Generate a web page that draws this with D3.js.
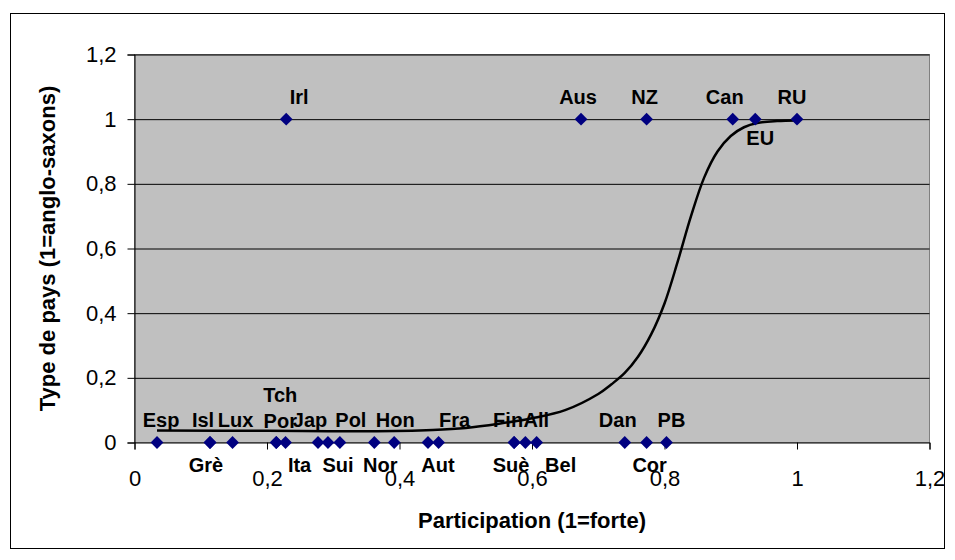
<!DOCTYPE html>
<html>
<head>
<meta charset="utf-8">
<script src="https://cdn.jsdelivr.net/npm/d3@7"></script>
<style>
  body { margin: 0; background: #fff; }
  text { font-family: "Liberation Sans", Arial, sans-serif; }
</style>
</head>
<body>
<div class="chart"></div>
<script>
// countries and values
var countries = ["Esp", "Isl", "Grè", "Lux", "Tch", "Por", "Ita", "Jap", "Sui", "Pol", "Nor", "Hon", "Aut", "Fra", "Suè", "Fin", "All", "Bel", "Dan", "Cor", "PB", "Irl", "Aus", "NZ", "Can", "EU", "RU"];
var participation = [0.034, 0.114, 0.114, 0.148, 0.214, 0.214, 0.228, 0.277, 0.292, 0.31, 0.362, 0.392, 0.443, 0.459, 0.573, 0.573, 0.59, 0.607, 0.74, 0.773, 0.803, 0.229, 0.674, 0.773, 0.903, 0.937, 1];
var anglo = [0, 0, 0, 0, 0, 0, 0, 0, 0, 0, 0, 0, 0, 0, 0, 0, 0, 0, 0, 0, 0, 1, 1, 1, 1, 1, 1];

// fitted curve, points
var curveX = [0.034, 0.2, 0.35, 0.45, 0.5, 0.55, 0.6, 0.65, 0.7, 0.72, 0.74, 0.76, 0.78, 0.8, 0.82, 0.84, 0.86, 0.88, 0.9, 0.92, 0.94, 0.97, 1];
var curveY = [0.037, 0.036, 0.035, 0.039, 0.045, 0.058, 0.075, 0.1, 0.15, 0.18, 0.215, 0.265, 0.335, 0.43, 0.56, 0.7, 0.82, 0.9, 0.948, 0.975, 0.988, 0.994, 0.996];

var xTicks = [0, 0.2, 0.4, 0.6, 0.8, 1, 1.2];
var xTickLabels = ["0", "0,2", "0,4", "0,6", "0,8", "1", "1,2"];
var yTicks = [0, 0.2, 0.4, 0.6, 0.8, 1, 1.2];
var yTickLabels = ["0", "0,2", "0,4", "0,6", "0,8", "1", "1,2"];

// label placement (pixel offsets from the point: dx, baseline dy)
var labelPlace = {
  "Esp": [4, -16], "Isl": [-7, -16], "Grè": [-4, 29], "Lux": [3, -16],
  "Tch": [4, -41], "Por": [4, -15], "Ita": [14, 29], "Jap": [-8, -16],
  "Sui": [10, 29], "Pol": [11, -16], "Nor": [6, 29], "Hon": [1, -16],
  "Aut": [10, 29], "Fra": [16, -16], "Suè": [-3, 29], "Fin": [-6, -16],
  "All": [11, -16], "Bel": [24, 29], "Dan": [-7, -16], "Cor": [3, 29],
  "PB": [5, -16], "Irl": [13, -15], "Aus": [-3, -15], "NZ": [-2, -15],
  "Can": [-8, -15], "EU": [5, 26], "RU": [-5, -15]
};

var W = 955, H = 560;
var margin = { top: 54.5, right: 25.5, bottom: 117.5, left: 134.5 };
var width = W - margin.left - margin.right;
var height = H - margin.top - margin.bottom;

var svg = d3
  .select(".chart")
  .append("svg")
  .attr("width", W)
  .attr("height", H);

// outer chart frame
svg.append("rect")
  .attr("x", 10.5)
  .attr("y", 13.5)
  .attr("width", 934)
  .attr("height", 535)
  .attr("fill", "#fff")
  .attr("stroke", "#000");

var chart = svg
  .append("g")
  .attr("transform", `translate(${margin.left},${margin.top})`);

var xScale = d3.scaleLinear().domain([0, 1.2]).range([0, width]);
var yScale = d3.scaleLinear().domain([0, 1.2]).range([height, 0]);

chart.append("rect")
  .attr("width", width)
  .attr("height", height)
  .attr("fill", "#c0c0c0")
  .attr("stroke", "#808080");

// gridlines
var yGridlines = d3.axisLeft(yScale).tickValues(yTicks.slice(1)).tickSize(-width).tickFormat("");
chart.append("g")
  .attr("class", "gridline")
  .call(yGridlines)
  .call(g => g.select(".domain").remove())
  .selectAll("line")
  .attr("stroke", "#000");

var xAxis = d3.axisBottom(xScale)
  .tickValues(xTicks)
  .tickSize(7)
  .tickFormat((d, i) => xTickLabels[i]);
var yAxis = d3.axisLeft(yScale)
  .tickValues(yTicks)
  .tickSize(7)
  .tickPadding(11)
  .tickFormat((d, i) => yTickLabels[i]);

var gx = chart.append("g")
  .attr("transform", `translate(0,${height})`)
  .call(xAxis);
gx.selectAll("text")
  .attr("y", 43)
  .attr("dy", 0)
  .attr("font-size", 22)
  .attr("fill", "#000");

var gy = chart.append("g").call(yAxis);
gy.selectAll("text")
  .attr("font-size", 22)
  .attr("fill", "#000");

[gx, gy].forEach(g => {
  g.select(".domain").attr("stroke", "#000");
  g.selectAll("line").attr("stroke", "#000");
});

// fitted curve
var curvePts = curveX.map((x, i) => [x, curveY[i]]);
var line = d3.line()
  .x(d => xScale(d[0]))
  .y(d => yScale(d[1]))
  .curve(d3.curveCatmullRom.alpha(0.5));

chart.append("path")
  .datum(curvePts)
  .attr("fill", "none")
  .attr("stroke", "#000")
  .attr("stroke-width", 2.5)
  .attr("d", line);

// points
var data = countries.map((c, i) => ({ name: c, x: participation[i], y: anglo[i] }));

chart.selectAll(".pt")
  .data(data)
  .enter()
  .append("path")
  .attr("class", "pt")
  .attr("d", d3.symbol().type(d3.symbolSquare).size(82))
  .attr("transform", d => `translate(${xScale(d.x)},${yScale(d.y)}) rotate(45)`)
  .attr("fill", "#000080");

chart.selectAll(".lbl")
  .data(data)
  .enter()
  .append("text")
  .attr("class", "lbl")
  .attr("x", d => xScale(d.x) + labelPlace[d.name][0])
  .attr("y", d => yScale(d.y) + labelPlace[d.name][1])
  .attr("text-anchor", "middle")
  .attr("font-size", 20)
  .attr("font-weight", "bold")
  .text(d => d.name);

// axis titles
chart.append("text")
  .attr("x", width / 2)
  .attr("y", height + 85)
  .attr("text-anchor", "middle")
  .attr("font-size", 22)
  .attr("font-weight", "bold")
  .text("Participation (1=forte)");

chart.append("text")
  .attr("transform", `translate(-80,${height / 2}) rotate(-90)`)
  .attr("text-anchor", "middle")
  .attr("font-size", 22)
  .attr("font-weight", "bold")
  .text("Type de pays (1=anglo-saxons)");
</script>
</body>
</html>
